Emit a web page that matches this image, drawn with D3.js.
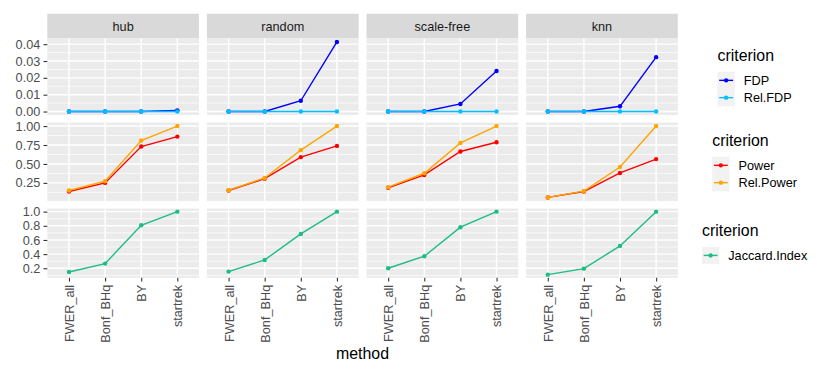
<!DOCTYPE html>
<html>
<head>
<meta charset="utf-8">
<script src="https://cdn.jsdelivr.net/npm/d3@7"></script>
<style>
  body { margin: 0; background: #fff; }
  svg { display: block; font-family: "Liberation Sans", Arial, sans-serif; }
</style>
</head>
<body>
<svg id="chart" width="830" height="378"></svg>
<script>
const methods = ["FWER_all", "Bonf_BHq", "BY", "startrek"];
const graphs = ["hub", "random", "scale-free", "knn"];

// one row per graph, values in method order
const fdp = [
  [0, 0, 0, 0.0007],
  [0, 0, 0.0064, 0.0413],
  [0, 0, 0.0045, 0.0241],
  [0, 0, 0.0031, 0.0323],
];
const relFdp = [
  [0, 0, 0, 0],
  [0, 0, 0, 0],
  [0, 0, 0, 0],
  [0, 0, 0, 0],
];
const power = [
  [0.136, 0.25, 0.73, 0.861],
  [0.15, 0.306, 0.59, 0.738],
  [0.185, 0.355, 0.665, 0.787],
  [0.058, 0.136, 0.381, 0.564],
];
const relPower = [
  [0.149, 0.272, 0.809, 1],
  [0.154, 0.315, 0.682, 1],
  [0.194, 0.377, 0.778, 1],
  [0.058, 0.141, 0.459, 1],
];
const jaccard = [
  [0.148, 0.266, 0.808, 1],
  [0.153, 0.318, 0.685, 1],
  [0.2, 0.37, 0.78, 1],
  [0.11, 0.195, 0.516, 1],
];

const fdpTicks = [0, 0.01, 0.02, 0.03, 0.04];
const powerTicks = [0.25, 0.5, 0.75, 1];
const jaccardTicks = [0.2, 0.4, 0.6, 0.8, 1];

const rows = [
  { series: [{ name: "FDP", values: fdp, color: "#0000FF" }, { name: "Rel.FDP", values: relFdp, color: "#00BFFF" }],
    ticks: fdpTicks, fmt: d3.format(".2f"), band: [38.5, 115] },
  { series: [{ name: "Power", values: power, color: "#FF0000" }, { name: "Rel.Power", values: relPower, color: "#FFA500" }],
    ticks: powerTicks, fmt: d3.format(".2f"), band: [122.5, 201] },
  { series: [{ name: "Jaccard.Index", values: jaccard, color: "#1DBD84" }],
    ticks: jaccardTicks, fmt: d3.format(".1f"), band: [208.5, 277.8] },
];

const svg = d3.select("#chart");
const panelX0 = 47.3, panelW = 151.7, panelGap = 7.9;
const stripTop = 13.7;
const labelSize = "12.7px", titleSize = "15.9px";

const colX = d3.scaleBand().domain(graphs)
  .range([panelX0, panelX0 + 4 * panelW + 3 * panelGap])
  .paddingInner(panelGap / (panelW + panelGap));

// strips
graphs.forEach((g) => {
  const x0 = colX(g);
  svg.append("rect").attr("x", x0).attr("y", stripTop)
    .attr("width", colX.bandwidth()).attr("height", rows[0].band[0] - stripTop)
    .attr("fill", "#D9D9D9");
  svg.append("text").attr("x", x0 + colX.bandwidth() / 2)
    .attr("y", (stripTop + rows[0].band[0]) / 2).attr("dy", "0.35em")
    .attr("text-anchor", "middle").attr("font-size", labelSize).attr("fill", "#1A1A1A")
    .text(g);
});

rows.forEach((row, ri) => {
  const all = row.series.flatMap((s) => s.values.flat());
  const lo = d3.min(all), hi = d3.max(all), pad = (hi - lo) * 0.05;
  const y = d3.scaleLinear().domain([lo - pad, hi + pad]).range([row.band[1], row.band[0]]);
  const step = row.ticks[1] - row.ticks[0];
  const minor = [row.ticks[0] - step / 2, ...row.ticks.map((t) => t + step / 2)]
    .filter((v) => v > y.domain()[0] && v < y.domain()[1]);

  graphs.forEach((g, gi) => {
    const x = d3.scalePoint().domain(methods).range([colX(g), colX(g) + colX.bandwidth()]).padding(0.6);
    const p = svg.append("g");
    p.append("rect").attr("x", colX(g)).attr("y", row.band[0])
      .attr("width", colX.bandwidth()).attr("height", row.band[1] - row.band[0]).attr("fill", "#EBEBEB");
    p.selectAll(".minor").data(minor).join("line")
      .attr("x1", colX(g)).attr("x2", colX(g) + colX.bandwidth())
      .attr("y1", (d) => y(d)).attr("y2", (d) => y(d))
      .attr("stroke", "#fff").attr("stroke-width", 0.7);
    p.selectAll(".hmaj").data(row.ticks).join("line")
      .attr("x1", colX(g)).attr("x2", colX(g) + colX.bandwidth())
      .attr("y1", (d) => y(d)).attr("y2", (d) => y(d))
      .attr("stroke", "#fff").attr("stroke-width", 1.4);
    p.selectAll(".vmaj").data(methods).join("line")
      .attr("x1", (d) => x(d)).attr("x2", (d) => x(d))
      .attr("y1", row.band[0]).attr("y2", row.band[1])
      .attr("stroke", "#fff").attr("stroke-width", 1.4);

    row.series.forEach((s) => {
      const pts = methods.map((m, mi) => [x(m), y(s.values[gi][mi])]);
      p.append("path").attr("d", d3.line()(pts)).attr("fill", "none")
        .attr("stroke", s.color).attr("stroke-width", 1.4);
      p.selectAll(null).data(pts).join("circle")
        .attr("cx", (d) => d[0]).attr("cy", (d) => d[1]).attr("r", 2.2).attr("fill", s.color);
    });

    if (ri === rows.length - 1) {
      const ax = svg.append("g").attr("transform", `translate(0,${row.band[1]})`)
        .call(d3.axisBottom(x).tickSize(3.8).tickPadding(3.2))
        .attr("font-family", null).attr("font-size", null);
      ax.select(".domain").remove();
      ax.selectAll(".tick line").attr("stroke", "#333").attr("stroke-width", 1.1);
      ax.selectAll(".tick text")
        .attr("transform", "rotate(-90)").attr("text-anchor", "end")
        .attr("x", -7).attr("y", 0).attr("dy", "0.35em")
        .attr("font-size", labelSize).attr("fill", "#4D4D4D");
    }
  });

  const ay = svg.append("g").attr("transform", `translate(${panelX0},0)`)
    .call(d3.axisLeft(y).tickValues(row.ticks).tickFormat(row.fmt).tickSize(3.8).tickPadding(3.2))
    .attr("font-family", null).attr("font-size", null);
  ay.select(".domain").remove();
  ay.selectAll(".tick line").attr("stroke", "#333").attr("stroke-width", 1.1);
  ay.selectAll(".tick text").attr("font-size", labelSize).attr("fill", "#4D4D4D");

  // legend for this row
  const n = row.series.length, key = 17.3;
  const mid = (row.band[0] + row.band[1]) / 2;
  const titleY = mid - 15.75 + (2 - n) * 8.65;
  const lg = svg.append("g");
  const title = lg.append("text").attr("y", titleY).attr("font-size", titleSize).attr("fill", "#000").text("criterion");
  const items = lg.selectAll(".item").data(row.series).join("g")
    .attr("transform", (d, i) => `translate(0,${titleY + 10.7 + i * key})`);
  items.append("rect").attr("width", key).attr("height", key).attr("fill", "#F2F2F2");
  items.append("line").attr("x1", 1.7).attr("x2", key - 1.7).attr("y1", key / 2).attr("y2", key / 2)
    .attr("stroke", (d) => d.color).attr("stroke-width", 1.4);
  items.append("circle").attr("cx", key / 2).attr("cy", key / 2).attr("r", 2.2).attr("fill", (d) => d.color);
  const labels = items.append("text").attr("x", key + 9).attr("y", key / 2).attr("dy", "0.35em")
    .attr("font-size", labelSize).attr("fill", "#000").text((d) => d.name);
  let w = title.node().getComputedTextLength();
  labels.each(function () { w = Math.max(w, key + 9 + this.getComputedTextLength()); });
  lg.attr("transform", `translate(${754.6 - w / 2},0)`);
});

svg.append("text").attr("x", colX.range()[0] / 2 + colX.range()[1] / 2).attr("y", 359)
  .attr("text-anchor", "middle").attr("font-size", titleSize).attr("fill", "#000").text("method");
</script>
</body>
</html>
